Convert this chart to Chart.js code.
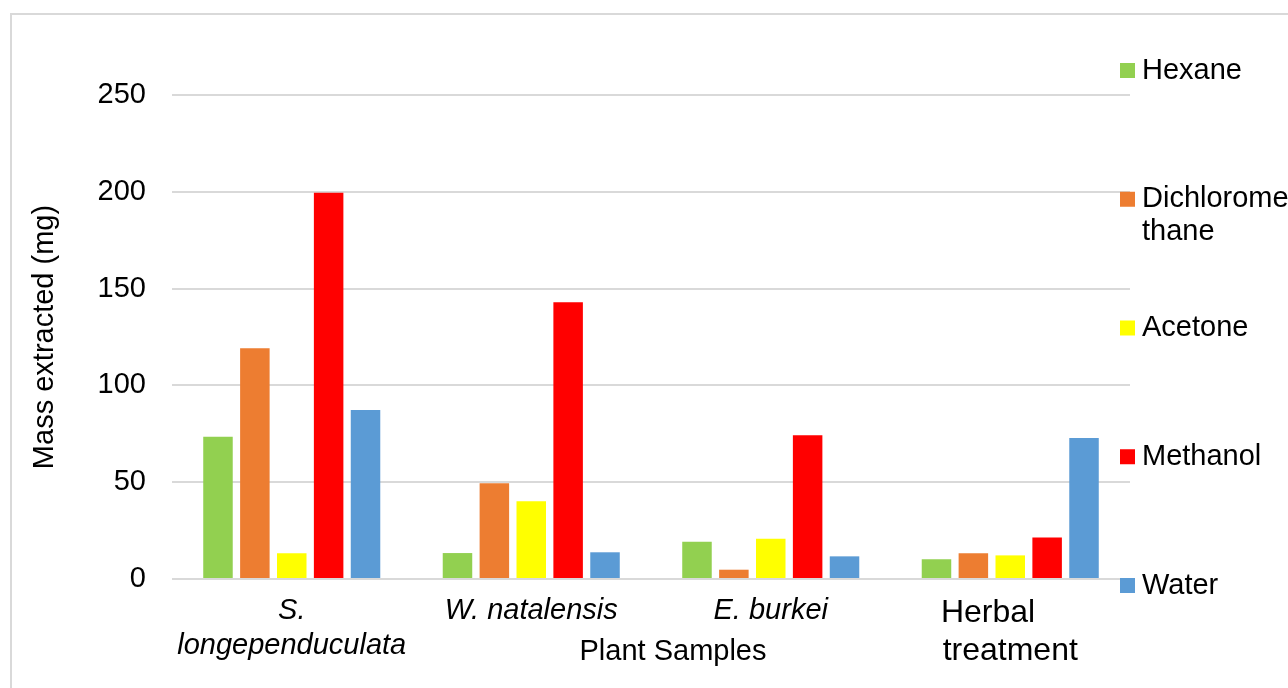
<!DOCTYPE html>
<html>
<head>
<meta charset="utf-8">
<script src="https://cdn.jsdelivr.net/npm/chart.js@4.4.0/dist/chart.umd.min.js"></script>
<style>
  html, body { margin: 0; padding: 0; background: #fff; }
  #wrap { width: 1288px; height: 688px; overflow: hidden; }
</style>
</head>
<body>
<div id="wrap"><canvas id="chart" width="1288" height="688"></canvas></div>
<script>
// plant samples on the x axis (the wrapped ones keep their line breaks;
// "Herbal" is padded so both of its lines start at the same x)
const samples = [["S.", "longependuculata"], "W. natalensis", "E. burkei", ["Herbal     ", "treatment"]];
const italicSamples = [true, true, true, false];
const sampleFontSizes = [29, 29, 29, 32];

// mass extracted (mg) per solvent, one value per sample
const hexane = [73.5, 13.4, 19.3, 10.2];
const dichloromethane = [119.2, 49.4, 4.8, 13.3];
const acetone = [13.3, 40.1, 20.8, 12.2];
const methanol = [199.5, 143, 74.2, 21.5];
const water = [87.3, 13.8, 11.7, 72.8];

const solvents = ["Hexane", "Dichloromethane", "Acetone", "Methanol", "Water"];
const legendLines = [["Hexane"], ["Dichlorome", "thane"], ["Acetone"], ["Methanol"], ["Water"]];
const colors = ["#92D050", "#ED7D31", "#FFFF00", "#FF0000", "#5B9BD5"];
const yTicks = [0, 50, 100, 150, 200, 250];

const xTitle = "Plant Samples";
const yTitle = "Mass extracted (mg)";

const family = "'Liberation Sans', Arial, sans-serif";
const fontSize = 29;

// white background + the light grey frame around the chart
const framePlugin = {
  id: "frame",
  beforeDraw(chart) {
    const ctx = chart.ctx;
    ctx.save();
    ctx.fillStyle = "#fff";
    ctx.fillRect(0, 0, chart.width, chart.height);
    ctx.strokeStyle = "#d9d9d9";
    ctx.lineWidth = 2;
    ctx.beginPath();
    ctx.moveTo(11, chart.height + 2);
    ctx.lineTo(11, 14);
    ctx.lineTo(chart.width + 2, 14);
    ctx.stroke();
    ctx.restore();
  },
};

// legend on the right, entries spread down the full height,
// plus the x axis title which sits between the two rows of sample names
const sideLegend = {
  id: "sideLegend",
  afterDraw(chart) {
    const ctx = chart.ctx;
    const area = chart.chartArea;
    const boxX = area.right - 10;
    const textX = boxX + 22;
    const firstY = 70.5;
    const step = 128.75;
    const lineH = 33;
    ctx.save();
    ctx.font = fontSize + "px " + family;
    ctx.textBaseline = "middle";
    ctx.textAlign = "left";
    chart.data.datasets.forEach((ds, i) => {
      const y = firstY + i * step;
      ctx.fillStyle = ds.backgroundColor;
      ctx.fillRect(boxX, y - 7.5, 15, 15);
      ctx.fillStyle = "#000";
      legendLines[i].forEach((line, j) => {
        ctx.fillText(line, textX, y + j * lineH);
      });
    });

    ctx.textAlign = "center";
    ctx.fillText(xTitle, (area.left + area.right) / 2 + 22, area.bottom + 73);
    ctx.restore();
  },
};

const seriesValues = [hexane, dichloromethane, acetone, methanol, water];

const chart = new Chart(document.getElementById("chart"), {
  type: "bar",
  data: {
    labels: samples,
    datasets: solvents.map((name, i) => ({
      label: name,
      data: seriesValues[i],
      backgroundColor: colors[i],
      borderWidth: 0,
      categoryPercentage: 0.77,
      barPercentage: 0.8,
    })),
  },
  options: {
    responsive: false,
    animation: false,
    layout: { padding: { top: 95, right: 158, bottom: 0, left: 12 } },
    plugins: {
      legend: { display: false },
      tooltip: { enabled: false },
    },
    scales: {
      x: {
        grid: { display: false, drawTicks: false },
        border: { display: false },
        ticks: {
          color: "#000",
          padding: 15,
          maxRotation: 0,
          autoSkip: false,
          font: (c) => ({
            family: family,
            size: sampleFontSizes[c.index],
            style: italicSamples[c.index] ? "italic" : "normal",
          }),
        },
        title: { display: false },
        afterFit: (s) => {
          s.height = 109;
        },
      },
      y: {
        min: 0,
        max: 250,
        afterBuildTicks: (s) => {
          s.ticks = yTicks.map((v) => ({ value: v }));
        },
        ticks: {
          color: "#000",
          padding: 26,
          font: { family: family, size: fontSize },
        },
        grid: { color: "#d9d9d9", lineWidth: 2, drawTicks: false },
        border: { display: false },
        title: {
          display: true,
          text: yTitle,
          color: "#000",
          font: { family: family, size: fontSize },
          padding: { top: 15.6, bottom: 0 },
        },
        afterFit: (s) => {
          s.width = 160;
        },
      },
    },
  },
  plugins: [framePlugin, sideLegend],
});
</script>
</body>
</html>
